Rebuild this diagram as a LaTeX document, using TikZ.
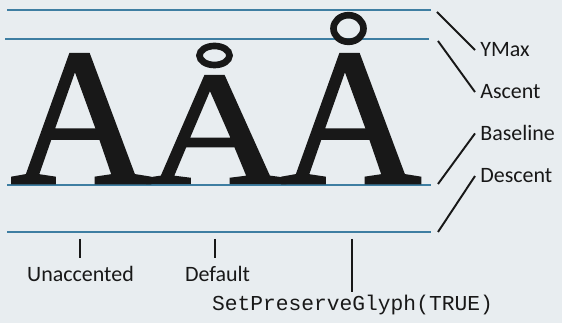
\documentclass[tikz,border=0pt]{standalone}
\usepackage{fontspec}
\setmainfont{Carlito}
\setmonofont{Liberation Mono}
\newfontfamily\glyphfont[FakeBold=1.5]{Liberation Serif}
\usetikzlibrary{positioning}
\definecolor{paper}{RGB}{232,237,240}
\definecolor{metricblue}{RGB}{62,126,162}
\definecolor{ink}{RGB}{24,24,24}

\begin{document}
\begin{tikzpicture}[
  x=0.02cm, y=-0.02cm,     % one unit = one pixel, y runs down
  metric/.style={draw=metricblue, line width=1.6pt},
  leader/.style={draw=ink, line width=1.1pt},
  tick/.style={draw=ink, line width=1.1pt},
  ring/.style={draw=ink, line width=3.8pt},
  lbl/.style={font=\fontsize{12.5}{14}\selectfont, text=ink, inner sep=0pt},
  code/.style={font=\ttfamily\fontsize{12.1}{14}\selectfont, text=ink, inner sep=0pt},
  glyph/.style={font=\glyphfont\fontsize{111}{111}\selectfont, text=ink, inner sep=0pt, anchor=base}
]
\path[fill=paper] (0,0) rectangle (562,323);

% Metric lines
\draw[metric] (7,10)  -- (431,10);
\draw[metric] (5,39)  -- (429,39);
\draw[metric] (7,185) -- (431,185);
\draw[metric] (7,232) -- (431,232);

\coordinate (ymaxEnd)    at (437,12);
\coordinate (ascentEnd)  at (438,41);
\coordinate (baseEnd)    at (438,184);
\coordinate (descentEnd) at (438,232);

% Glyphs
\node[glyph] (plain) at (81,183)  {A};
\node[glyph] (dflt)  at (216,183) {\scalebox{1}[0.83]{A}};
\node[glyph] (kept)  at (351,183) {A};
\draw[ring] (214.5,55.5) ellipse [x radius=0.3cm, y radius=0.19cm];
\draw[ring] (348.5,28.5) ellipse [x radius=0.3cm, y radius=0.266cm];

% Labels
\node[lbl, anchor=base west] (ymax) at (480,57) {YMax};
\node[lbl, below=0.84cm of ymax.base west, anchor=base west]    (ascent)   {Ascent};
\node[lbl, below=0.84cm of ascent.base west, anchor=base west]  (baseline) {Baseline};
\node[lbl, below=0.84cm of baseline.base west, anchor=base west] (descent) {Descent};

\node[lbl, anchor=base]  (unacc)    at (80.5,282)  {Unaccented};
\node[lbl, anchor=base]  (deflabel) at (217.5,282) {Default};
\node[code, anchor=base] (preserve) at (352.5,311) {SetPreserveGlyph(TRUE)};

\coordinate (unaccTop)    at (80,239);
\coordinate (defTop)      at (215,239);
\coordinate (preserveTop) at (352,239);

% Leaders
\draw[leader] (ymaxEnd)    -- ([xshift=-0.1cm]ymax.west);
\draw[leader] (ascentEnd)  -- ([xshift=-0.1cm]ascent.west);
\draw[leader] (baseEnd)    -- ([xshift=-0.1cm]baseline.west);
\draw[leader] (descentEnd) -- ([xshift=-0.1cm]descent.west);

\draw[tick] (unaccTop)    -- ([yshift=5pt]unaccTop |- unacc.north);
\draw[tick] (defTop)      -- ([yshift=5pt]defTop |- deflabel.north);
\draw[tick] (preserveTop) -- ([yshift=2pt]preserveTop |- preserve.north);
\end{tikzpicture}
\end{document}
